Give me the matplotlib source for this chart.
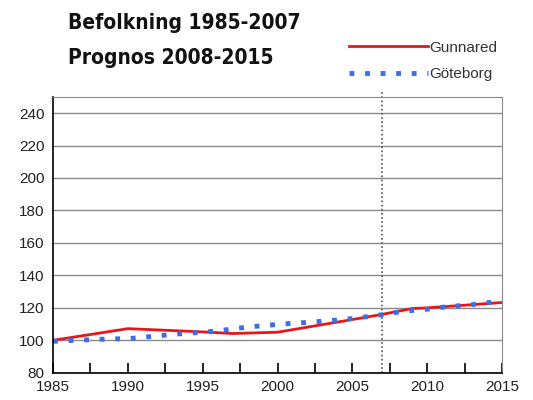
import matplotlib
matplotlib.use("Agg")
from matplotlib import pyplot as plt
from matplotlib.ticker import MultipleLocator

# data (index, 1985 = 100)
gunnared_years = [1985, 1990, 1995, 1997, 2000, 2005, 2007, 2009, 2010, 2015]
gunnared_values = [100, 107.2, 105.2, 104.2, 105, 112.8, 116, 119.6, 120, 123.3]

goteborg_years = list(range(1985, 2016))
goteborg_values = [99.4, 99.8, 100.2, 100.6, 100.9, 101.0, 101.9, 102.7, 103.7, 104.4,
                   105.0, 105.8, 107.0, 108.2, 109.0, 109.8, 110.5, 111.0, 111.8, 112.5,
                   113.4, 114.6, 115.8, 117.3, 118.4, 119.2, 120.4, 121.2, 122.0, 123.2,
                   123.6]

forecast_start = 2007
title_lines = ["Befolkning 1985-2007", "Prognos 2008-2015"]

plt.rcParams['font.family'] = ['Liberation Sans', 'DejaVu Sans']

fig = plt.figure(figsize=(5.33, 4.0), dpi=100)
ax = fig.add_axes([0.0995, 0.068, 0.8425, 0.69])

ax.plot(gunnared_years, gunnared_values, '-', color='#e8161b', linewidth=2, label='Gunnared')
ax.plot(goteborg_years, goteborg_values, color='#3c6ee6', linewidth=3.5,
        linestyle=(0, (1.0, 2.2)), label='Göteborg')
ax.axvline(forecast_start, color='#555555', linestyle=(0, (1, 1.5)), linewidth=1.2, clip_on=False,
           ymax=1.02)

ax.set_xlim(1985, 2015)
ax.set_ylim(80, 250)
ax.set_yticks(range(80, 241, 20))
ax.xaxis.set_major_locator(MultipleLocator(5))
ax.xaxis.set_minor_locator(MultipleLocator(2.5))
ax.grid(axis='y', color='#8a8a8a', linewidth=1)
ax.set_axisbelow(True)

ax.tick_params(axis='x', which='both', direction='in', length=7, width=1.2, colors='black',
               labelsize=11, pad=5)
ax.tick_params(axis='y', direction='in', length=0, labelsize=11, pad=6)
for lab in ax.get_xticklabels() + ax.get_yticklabels():
    lab.set_color('#222222')

ax.spines['left'].set_color('black')
ax.spines['bottom'].set_color('black')
ax.spines['left'].set_linewidth(1.2)
ax.spines['bottom'].set_linewidth(1.2)
ax.spines['top'].set_color('#8a8a8a')
ax.spines['right'].set_color('#8a8a8a')

title_font = dict(fontsize=15, fontweight='bold', fontstretch='condensed',
                  family=['DejaVu Sans'], va='center', color='#111111')
fig.text(0.127, 0.942, title_lines[0], **title_font)
fig.text(0.127, 0.855, title_lines[1], **title_font)

leg = ax.legend(loc='upper left', bbox_to_anchor=(0.64, 0.917), bbox_transform=fig.transFigure,
                frameon=False, fontsize=11, handlelength=5.2, handletextpad=0.1,
                labelspacing=0.8, borderpad=0)
for t in leg.get_texts():
    t.set_color('#333333')

fig.savefig('out.png', dpi=100)
